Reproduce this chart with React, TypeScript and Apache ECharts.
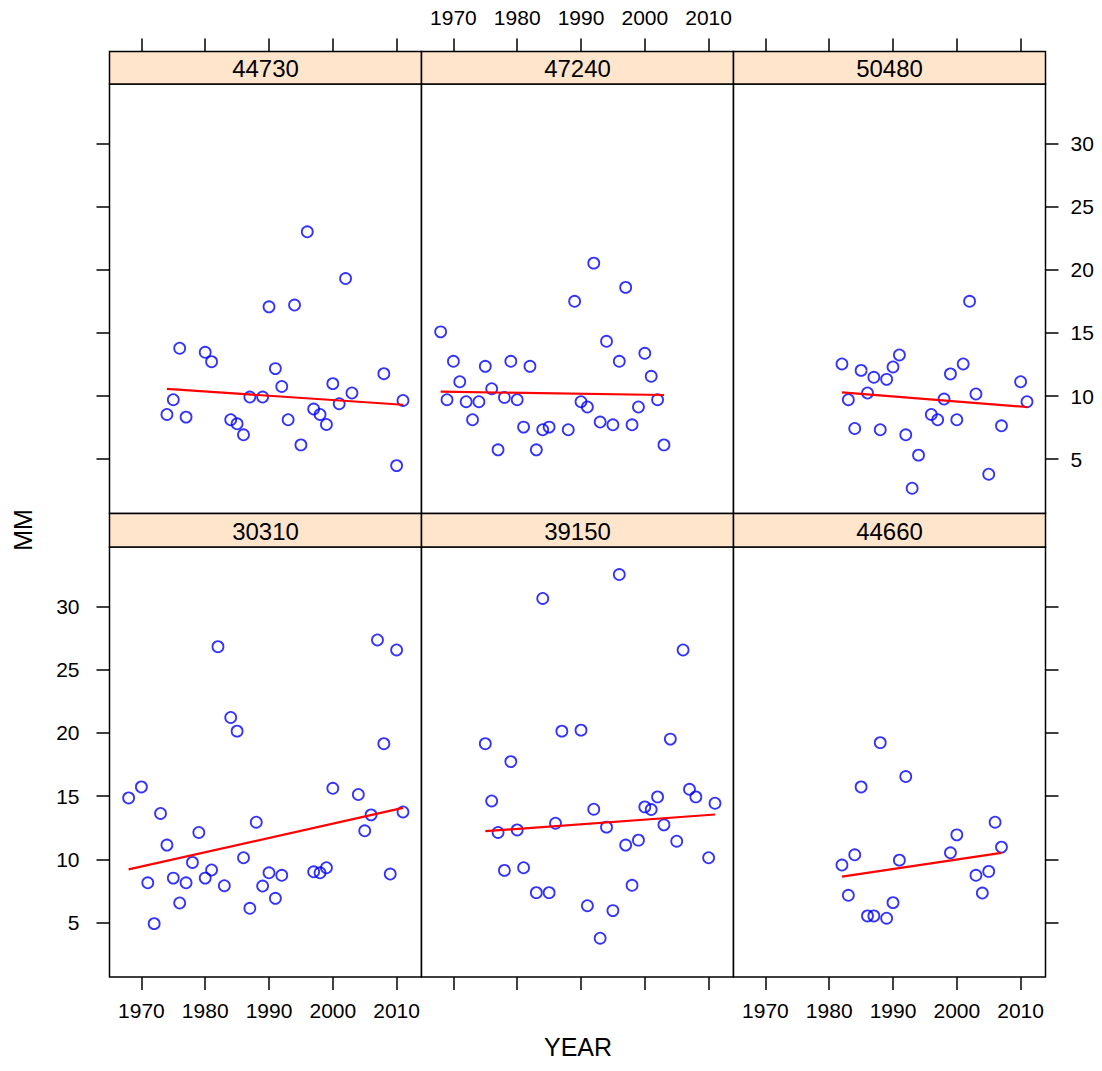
import React, { useEffect, useRef } from "react";
import * as echarts from "echarts";

// ---------- data ----------
const stations = ["44730", "47240", "50480", "30310", "39150", "44660"];

const years44730 = [1974, 1975, 1976, 1977, 1980, 1981, 1984, 1985, 1986, 1987, 1989, 1990, 1991, 1992, 1993, 1994, 1995, 1996, 1997, 1998, 1999, 2000, 2001, 2002, 2003, 2008, 2010, 2011];
const mm44730 = [8.54, 9.71, 13.78, 8.33, 13.46, 12.72, 8.12, 7.8, 6.93, 9.92, 9.92, 17.06, 12.17, 10.76, 8.12, 17.2, 6.13, 23.0, 8.97, 8.54, 7.75, 10.98, 9.39, 19.3, 10.24, 11.77, 4.49, 9.65];

const years47240 = [1968, 1969, 1970, 1971, 1972, 1973, 1974, 1975, 1976, 1977, 1978, 1979, 1980, 1981, 1982, 1983, 1984, 1985, 1988, 1989, 1990, 1991, 1992, 1993, 1994, 1995, 1996, 1997, 1998, 1999, 2000, 2001, 2002, 2003];
const mm47240 = [15.08, 9.71, 12.75, 11.13, 9.55, 8.12, 9.55, 12.35, 10.58, 5.74, 9.89, 12.75, 9.71, 7.54, 12.35, 5.74, 7.33, 7.54, 7.33, 17.5, 9.55, 9.13, 20.52, 7.94, 14.33, 7.72, 12.75, 18.6, 7.72, 9.13, 13.38, 11.56, 9.71, 6.13];

const years50480 = [1982, 1983, 1984, 1985, 1986, 1987, 1988, 1989, 1990, 1991, 1992, 1993, 1994, 1996, 1997, 1998, 1999, 2000, 2001, 2002, 2003, 2005, 2007, 2010, 2011];
const mm50480 = [12.54, 9.71, 7.43, 12.03, 10.24, 11.48, 7.33, 11.32, 12.3, 13.25, 6.93, 2.7, 5.32, 8.54, 8.12, 9.76, 11.75, 8.12, 12.54, 17.5, 10.16, 3.81, 7.64, 11.13, 9.55];

const years30310 = [1968, 1970, 1971, 1972, 1973, 1974, 1975, 1976, 1977, 1978, 1979, 1980, 1981, 1982, 1983, 1984, 1985, 1986, 1987, 1988, 1989, 1990, 1991, 1992, 1997, 1998, 1999, 2000, 2004, 2005, 2006, 2007, 2008, 2009, 2010, 2011];
const mm30310 = [14.86, 15.73, 8.15, 4.92, 13.63, 11.13, 8.52, 6.55, 8.15, 9.76, 12.13, 8.52, 9.16, 26.82, 7.92, 21.22, 20.14, 10.13, 6.13, 12.94, 7.89, 8.94, 6.92, 8.74, 9.02, 8.94, 9.34, 15.62, 15.13, 12.26, 13.52, 27.35, 19.15, 8.84, 26.56, 13.75];

const years39150 = [1975, 1976, 1977, 1978, 1979, 1980, 1981, 1983, 1984, 1985, 1986, 1987, 1990, 1991, 1992, 1993, 1994, 1995, 1996, 1997, 1998, 1999, 2000, 2001, 2002, 2003, 2004, 2005, 2006, 2007, 2008, 2010, 2011];
const mm39150 = [19.15, 14.62, 12.13, 9.13, 17.73, 12.33, 9.34, 7.37, 30.63, 7.37, 12.86, 20.14, 20.22, 6.34, 13.97, 3.77, 12.55, 5.95, 32.52, 11.13, 7.95, 11.52, 14.15, 13.94, 14.94, 12.73, 19.51, 11.44, 26.56, 15.54, 14.94, 10.13, 14.44];

const years44660 = [1982, 1983, 1984, 1985, 1986, 1987, 1988, 1989, 1990, 1991, 1992, 1999, 2000, 2003, 2004, 2005, 2006, 2007];
const mm44660 = [9.55, 7.16, 10.36, 15.73, 5.53, 5.53, 19.23, 5.35, 6.58, 9.94, 16.55, 10.52, 11.94, 8.74, 7.34, 9.05, 12.94, 10.97];

const panelYears = [years44730, years47240, years50480, years30310, years39150, years44660];
const panelValues = [mm44730, mm47240, mm50480, mm30310, mm39150, mm44660];

const trendYears = [[1974, 2011], [1968, 2003], [1982, 2011], [1968, 2011], [1975, 2011], [1982, 2007]];
const trendValues = [[10.56, 9.31], [10.34, 10.08], [10.29, 9.13], [9.21, 14.07], [12.23, 13.55], [8.63, 10.52]];

const yearTicks = [1970, 1980, 1990, 2000, 2010];
const mmTicks = [5, 10, 15, 20, 25, 30];

// ---------- layout ----------
const FONT = "Liberation Sans, Arial, Helvetica, sans-serif";
const COL_LEFT = [109.5, 421.5, 733.5];
const COL_W = 312;
const ROW_TOP = [84, 547];
const ROW_H = [429.5, 430];
const STRIP_TOP = [51.5, 513.5];
const X_MIN = 1965.0;
const X_MAX = 2013.9;
const Y_MIN = 0.7;
const Y_MAX = 34.7;

export default function App() {
  const ref = useRef<HTMLDivElement>(null);

  useEffect(() => {
    if (!ref.current) return;
    const chart = echarts.init(ref.current, undefined, { renderer: "svg" });

    const grids: any[] = [];
    const xAxes: any[] = [];
    const yAxes: any[] = [];
    const series: any[] = [];
    const graphics: any[] = [];

    for (let i = 0; i < 6; i++) {
      const row = i < 3 ? 0 : 1;
      const col = i % 3;
      grids.push({
        left: COL_LEFT[col],
        top: ROW_TOP[row],
        width: COL_W,
        height: ROW_H[row],
        containLabel: false,
        outerBoundsMode: "none",
        show: true,
        borderColor: "#000",
        borderWidth: 1.5,
        backgroundColor: "#fff",
      });
      const showXLabel = row === 0 ? col === 1 : col !== 1;
      xAxes.push({
        gridIndex: i,
        type: "value",
        min: X_MIN,
        max: X_MAX,
        position: row === 0 ? "top" : "bottom",
        offset: row === 0 ? ROW_TOP[0] - STRIP_TOP[0] : 0,
        axisLine: { show: false },
        splitLine: { show: false },
        axisTick: {
          show: true,
          inside: false,
          length: 13,
          customValues: yearTicks,
          lineStyle: { color: "#000", width: 1.5 },
        },
        axisLabel: {
          show: showXLabel,
          customValues: yearTicks,
          formatter: (v: number) => String(v),
          margin: row === 0 ? 24 : 23,
          fontSize: 21,
          color: "#000",
          fontFamily: FONT,
        },
      });
      const hasY = col !== 1;
      const showYLabel = col === 0 ? row === 1 : row === 0;
      yAxes.push({
        gridIndex: i,
        type: "value",
        min: Y_MIN,
        max: Y_MAX,
        position: col === 2 ? "right" : "left",
        axisLine: { show: false },
        splitLine: { show: false },
        axisTick: {
          show: hasY,
          inside: false,
          length: 13,
          customValues: mmTicks,
          lineStyle: { color: "#000", width: 1.5 },
        },
        axisLabel: {
          show: hasY && showYLabel,
          customValues: mmTicks,
          formatter: (v: number) => String(v),
          margin: col === 2 ? 25 : 30,
          fontSize: 21,
          color: "#000",
          fontFamily: FONT,
        },
      });

      series.push({
        type: "scatter",
        xAxisIndex: i,
        yAxisIndex: i,
        symbol: "circle",
        symbolSize: 11,
        itemStyle: { color: "rgba(0,0,0,0)", borderColor: "#0000FF", borderWidth: 1.8 },
        data: panelYears[i].map((y, k) => [y, panelValues[i][k]]),
        z: 3,
      });
      series.push({
        type: "line",
        xAxisIndex: i,
        yAxisIndex: i,
        symbol: "none",
        lineStyle: { color: "#FF0000", width: 2.2 },
        data: trendYears[i].map((y, k) => [y, trendValues[i][k]]),
        z: 4,
      });

      const stripH = ROW_TOP[row] - STRIP_TOP[row];
      graphics.push({
        type: "rect",
        shape: { x: COL_LEFT[col], y: STRIP_TOP[row], width: COL_W, height: stripH },
        style: { fill: "#FFE5CC", stroke: "#000", lineWidth: 1.5 },
        z: 10,
      });
      graphics.push({
        type: "text",
        x: COL_LEFT[col] + COL_W / 2,
        y: STRIP_TOP[row] + stripH / 2 + 1,
        style: {
          text: stations[i],
          fontSize: 24,
          fontFamily: FONT,
          fill: "#000",
          align: "center",
          verticalAlign: "middle",
        },
        z: 11,
      });
    }

    graphics.push({
      type: "text",
      x: 23,
      y: 530,
      rotation: Math.PI / 2,
      style: {
        text: "MM",
        fontSize: 25,
        fontFamily: FONT,
        fill: "#000",
        align: "center",
        verticalAlign: "middle",
      },
      z: 11,
    });
    graphics.push({
      type: "text",
      x: 578,
      y: 1047,
      style: {
        text: "YEAR",
        fontSize: 25,
        fontFamily: FONT,
        fill: "#000",
        align: "center",
        verticalAlign: "middle",
      },
      z: 11,
    });

    chart.setOption({
      animation: false,
      backgroundColor: "#fff",
      grid: grids,
      xAxis: xAxes,
      yAxis: yAxes,
      series,
      graphic: graphics,
    });

    return () => chart.dispose();
  }, []);

  return (
    <div
      ref={ref}
      style={{ position: "absolute", left: 0, top: 0, width: 1102, height: 1071 }}
    />
  );
}
